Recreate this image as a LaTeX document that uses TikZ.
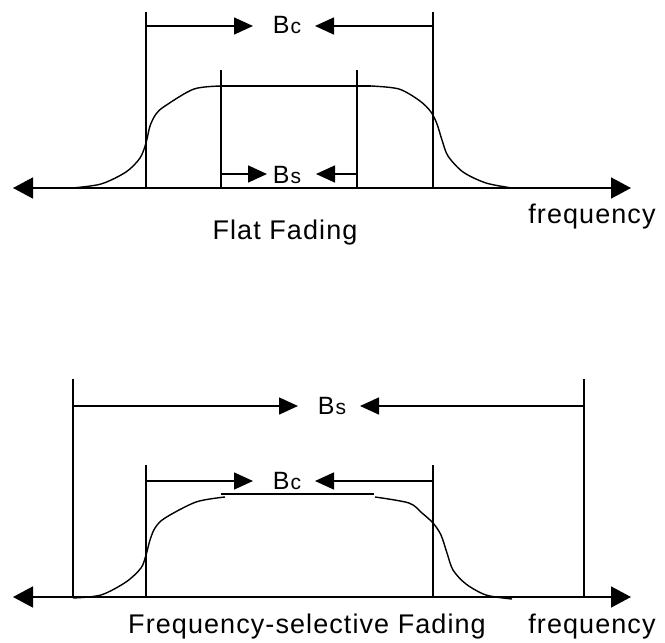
\documentclass[tikz,border=0pt]{standalone}
\usepackage{fontspec}
\setmainfont{Liberation Sans}
\usetikzlibrary{arrows.meta}
\newcommand\smallsub[1]{{\fontsize{21}{23}\selectfont #1}}
\begin{document}
\begin{tikzpicture}[x=1pt,y=-1pt,line width=1.6pt,
  dimtip/.style={-{Triangle[length=19pt,width=17pt]}},
  axtip/.style={{Triangle[length=20pt,width=21pt]}-{Triangle[length=20pt,width=21pt]}},
  lbl/.style={inner sep=0pt,anchor=base,font=\fontsize{27}{30}\selectfont\addfontfeature{LetterSpace=4}},
  bw/.style={inner sep=0pt,anchor=base,font=\fontsize{25}{27}\selectfont},
  curve/.style={line width=1.4pt,line join=round}]
\useasboundingbox (0,0) rectangle (665,643);
% ---------------- top: flat fading ----------------
\coordinate (tAL) at (13,188); \coordinate (tAR) at (631,188);
\draw[axtip] (tAL) -- (tAR);
\coordinate (tC1t) at (146,12); \coordinate (tC1b) at (146,188);
\coordinate (tC2t) at (433,12); \coordinate (tC2b) at (433,188);
\draw (tC1t) -- (tC1b); \draw (tC2t) -- (tC2b);
\coordinate (tS1t) at (221,70); \coordinate (tS1b) at (221,188);
\coordinate (tS2t) at (357,70); \coordinate (tS2b) at (357,188);
\draw (tS1t) -- (tS1b); \draw (tS2t) -- (tS2b);
% Bc dimension
\coordinate (tCa) at (146,26); \coordinate (tCat) at (253,26);
\coordinate (tCb) at (433,26); \coordinate (tCbt) at (315,26);
\draw[dimtip] (tCa) -- (tCat); \draw[dimtip] (tCb) -- (tCbt);
\node[bw] (tBc) at (287,33) {B\kern1pt\smallsub{c}};
% Bs dimension
\coordinate (tSa) at (221,174); \coordinate (tSat) at (267,174);
\coordinate (tSb) at (357,174); \coordinate (tSbt) at (316,174);
\draw[dimtip] (tSa) -- (tSat); \draw[dimtip] (tSb) -- (tSbt);
\node[bw] (tBs) at (287,183) {B\kern1pt\smallsub{s}};
% curve
\draw[curve] plot[smooth,tension=0.5] coordinates {(72,188) (101,184) (126,172) (140,158) (146,143) (150,126) (156,114) (165,106) (194,89) (222,86)};
\draw[curve] (222,86) -- (371,86);
\draw[curve] plot[smooth,tension=0.5] coordinates {(371,86) (399,89) (420,101) (431,112) (437,124) (442,140) (448,156) (463,172) (486,183) (512,188)};
\node[lbl] (tFreq) at (592,223) {frequency};
\node[lbl] (tTitle) at (285,239) {Flat Fading};
% ---------------- bottom: frequency-selective fading ----------------
\coordinate (bAL) at (13,597); \coordinate (bAR) at (631,597);
\draw[axtip] (bAL) -- (bAR);
\coordinate (bS1t) at (73,379); \coordinate (bS1b) at (73,597);
\coordinate (bS2t) at (584,379); \coordinate (bS2b) at (584,597);
\draw (bS1t) -- (bS1b); \draw (bS2t) -- (bS2b);
\coordinate (bC1t) at (146,465); \coordinate (bC1b) at (146,597);
\coordinate (bC2t) at (433,465); \coordinate (bC2b) at (433,597);
\draw (bC1t) -- (bC1b); \draw (bC2t) -- (bC2b);
% Bs dimension
\coordinate (bSa) at (73,406); \coordinate (bSat) at (298,406);
\coordinate (bSb) at (584,406); \coordinate (bSbt) at (360,406);
\draw[dimtip] (bSa) -- (bSat); \draw[dimtip] (bSb) -- (bSbt);
\node[bw] (bBs) at (332,414) {B\kern1pt\smallsub{s}};
% Bc dimension
\coordinate (bCa) at (146,481); \coordinate (bCat) at (253,481);
\coordinate (bCb) at (433,481); \coordinate (bCbt) at (315,481);
\draw[dimtip] (bCa) -- (bCat); \draw[dimtip] (bCb) -- (bCbt);
\node[bw] (bBc) at (287,489) {B\kern1pt\smallsub{c}};
% curve
\draw[curve] plot[smooth,tension=0.5] coordinates {(73,598) (101,595) (126,582) (141,568) (146,555) (150,540) (155,528) (165,518) (196,502) (225,497)};
\draw[curve] (221,494) -- (374,494);
\draw[curve] plot[smooth,tension=0.5] coordinates {(375,497) (409,503) (422,513) (433,523) (441,535) (447,553) (453,570) (466,584) (486,595) (512,599)};
\node[lbl] (bFreq) at (592,633) {frequency};
\node[lbl] (bTitle) at (307,633) {Frequency-selective Fading};
\end{tikzpicture}
\end{document}
